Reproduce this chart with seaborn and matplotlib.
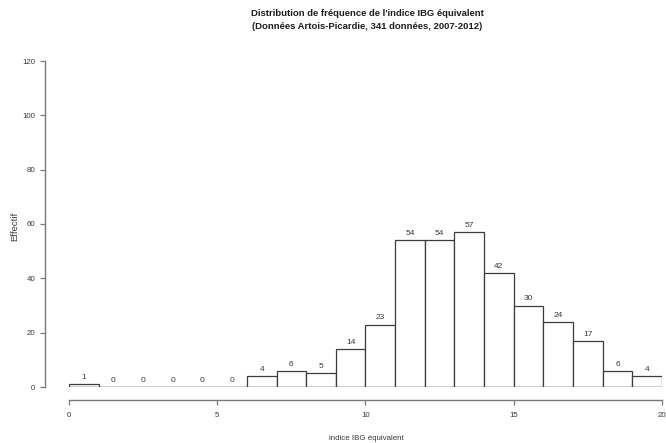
import numpy as np
import pandas as pd
import matplotlib
matplotlib.use("Agg")
import matplotlib.pyplot as plt
import seaborn as sns

# Effectifs par classe unitaire de l'indice IBG équivalent (0-20)
bin_edges = list(range(0, 21))
counts = [1, 0, 0, 0, 0, 0, 4, 6, 5, 14, 23, 54, 54, 57, 42, 30, 24, 17, 6, 4]
x_ticks = [0, 5, 10, 15, 20]
y_ticks = [0, 20, 40, 60, 80, 100, 120]

title = ("Distribution de fréquence de l'indice IBG équivalent\n"
         "(Données Artois-Picardie, 341 données, 2007-2012)")
x_label = "indice IBG équivalent"
y_label = "Effectif"

df = pd.DataFrame({
    "classe": [e + 0.5 for e in bin_edges[:-1]],
    "effectif": counts,
})

sns.set_theme(style="white")
plt.rcParams["font.family"] = ["Liberation Sans", "DejaVu Sans"]

W, H = 666, 443
fig = plt.figure(figsize=(W / 100, H / 100), dpi=100)
x0, x1 = 69, 662
y0, y1 = 387, 61
ax = fig.add_axes([x0 / W, 1 - y0 / H, (x1 - x0) / W, (y0 - y1) / H])

edge = "#3c3c3c"
axis_col = "#7a7a7a"
text_col = "#3a3a3a"
fs = 5.7

sns.histplot(data=df, x="classe", weights="effectif", bins=bin_edges,
             stat="count", ax=ax, color="white", edgecolor=edge,
             linewidth=0.9, alpha=1.0)
# ligne de base commune des classes (visible sous les classes vides)
ax.plot([bin_edges[0], bin_edges[-1]], [0, 0], color=edge, lw=0.9,
        solid_capstyle="butt", zorder=3)

ax.set_xlim(0, 20)
ax.set_ylim(0, 120)

# Valeurs au-dessus des barres
for p in ax.patches:
    h = p.get_height()
    ax.annotate(f"{int(round(h))}", (p.get_x() + p.get_width() / 2, h),
                xytext=(0, 2.2), textcoords="offset points",
                ha="center", va="bottom", fontsize=fs + 0.3, color=text_col)

# Axes à la manière de R : décalés et limités aux graduations
for s in ["top", "right"]:
    ax.spines[s].set_visible(False)
ax.spines["left"].set_position(("outward", 24 * 0.72))
ax.spines["bottom"].set_position(("outward", 13 * 0.72))
ax.spines["left"].set_bounds(0, 120)
ax.spines["bottom"].set_bounds(0, 20)
for s in ["left", "bottom"]:
    ax.spines[s].set_color(axis_col)
    ax.spines[s].set_linewidth(1.0)

ax.set_xticks(x_ticks)
ax.set_yticks(y_ticks)
ax.tick_params(axis="both", bottom=True, left=True, direction="out",
               length=3.6, width=0.9, color=axis_col, labelsize=fs,
               labelcolor=text_col)
ax.tick_params(axis="x", pad=5)
ax.tick_params(axis="y", pad=3.5)

ax.set_xlabel("")
ax.set_ylabel("")
fig.text(366 / W, 1 - 438 / H, x_label, ha="center", va="center",
         fontsize=fs, color=text_col)
fig.text(15 / W, 1 - 226 / H, y_label, ha="center", va="center",
         rotation=90, fontsize=6.8, color=text_col)
fig.text(367 / W, 1 - 20 / H, title, ha="center", va="center",
         fontsize=6.8, fontweight="bold", color="#1e1e1e", linespacing=1.55)

fig.savefig("out.png", dpi=100, facecolor="white")
